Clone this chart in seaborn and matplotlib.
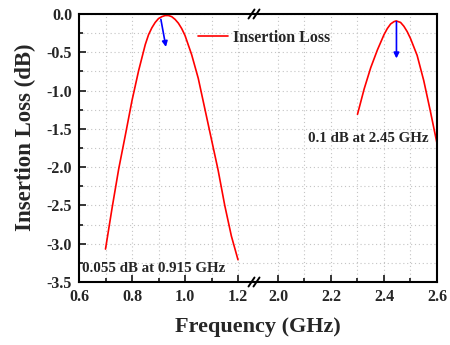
#!/usr/bin/env python3
"""Insertion loss vs frequency, two bands on a broken x axis."""

import matplotlib
matplotlib.use("Agg")
import matplotlib.pyplot as plt
from matplotlib.lines import Line2D
from matplotlib.ticker import MultipleLocator, FixedLocator
import pandas as pd
import seaborn as sns

# band 1 (around 0.915 GHz)
freq_low = [0.700, 0.725, 0.750, 0.775, 0.800, 0.825, 0.850, 0.8625, 0.875,
            0.8875, 0.900, 0.9125, 0.925, 0.932, 0.9375, 0.950, 0.9625, 0.975,
            0.9875, 1.000, 1.025, 1.050, 1.075, 1.100, 1.125, 1.150, 1.175,
            1.200]
loss_low = [-3.07, -2.53, -2.02, -1.58, -1.13, -0.74, -0.40, -0.27, -0.18,
            -0.11, -0.06, -0.035, -0.02, -0.02, -0.02, -0.035, -0.07, -0.12,
            -0.19, -0.28, -0.53, -0.84, -1.24, -1.64, -2.04, -2.50, -2.90,
            -3.21]

# band 2 (around 2.45 GHz)
freq_high = [2.300, 2.325, 2.350, 2.375, 2.400, 2.4125, 2.425, 2.4375, 2.446,
             2.4625, 2.475, 2.4875, 2.500, 2.525, 2.550, 2.575, 2.600]
loss_high = [-1.31, -0.98, -0.70, -0.47, -0.27, -0.19, -0.13, -0.10, -0.09,
             -0.11, -0.16, -0.23, -0.32, -0.54, -0.87, -1.27, -1.69]

label_low = "0.055 dB at 0.915 GHz"
label_high = "0.1 dB at 2.45 GHz"

sns.set_theme(style="ticks")
plt.rcParams["font.family"] = ["Liberation Serif", "DejaVu Serif"]
plt.rcParams["font.weight"] = "bold"
plt.rcParams["axes.unicode_minus"] = False

W, H = 450, 345
fig = plt.figure(figsize=(W / 100, H / 100), dpi=100)
x0, xb, x1 = 79, 255, 437
y_top, y_bot = 14, 282
ax_l = fig.add_axes([x0 / W, 1 - y_bot / H, (xb - x0) / W, (y_bot - y_top) / H])
ax_r = fig.add_axes([xb / W, 1 - y_bot / H, (x1 - xb) / W, (y_bot - y_top) / H],
                    sharey=ax_l)

px_per_ghz = 265
ax_l.set_xlim(0.6, 0.6 + (xb - x0) / px_per_ghz)
ax_r.set_xlim(2.6 - (x1 - xb) / px_per_ghz, 2.6)
ax_l.set_ylim(-3.5, 0.0)

df_low = pd.DataFrame({"f": freq_low, "il": loss_low})
df_high = pd.DataFrame({"f": freq_high, "il": loss_high})
sns.lineplot(data=df_low, x="f", y="il", ax=ax_l, color="#ff0000", lw=1.2,
             label="Insertion Loss", legend=False)
sns.lineplot(data=df_high, x="f", y="il", ax=ax_r, color="#ff0000", lw=1.2,
             legend=False)

grid_kw = dict(color="#c4c4c4", lw=0.8, linestyle=(0, (1, 2.5)))
for ax in (ax_l, ax_r):
    ax.set_xlabel("")
    ax.set_ylabel("")
    ax.yaxis.set_major_locator(MultipleLocator(0.5))
    ax.yaxis.set_minor_locator(MultipleLocator(0.25))
    ax.grid(True, which="both", **grid_kw)
    ax.set_axisbelow(True)
    ax.tick_params(which="both", direction="in", top=False, right=False,
                   labelsize=11.5, width=1.3)
    ax.tick_params(which="major", length=5, pad=5)
    ax.tick_params(which="minor", length=3)
    for s in ax.spines.values():
        s.set_linewidth(1.5)
        s.set_color("black")

ax_l.xaxis.set_major_locator(FixedLocator([0.6, 0.8, 1.0, 1.2]))
ax_l.xaxis.set_minor_locator(FixedLocator([0.7, 0.9, 1.1]))
ax_r.xaxis.set_major_locator(FixedLocator([2.0, 2.2, 2.4, 2.6]))
ax_r.xaxis.set_minor_locator(FixedLocator([2.1, 2.3, 2.5]))
ax_l.yaxis.set_major_formatter(lambda v, p: f"{v:.1f}")
ax_l.xaxis.set_major_formatter(lambda v, p: f"{v:.1f}")
ax_r.xaxis.set_major_formatter(lambda v, p: f"{v:.1f}")

ax_l.spines["right"].set_visible(False)
ax_r.spines["left"].set_visible(False)
ax_r.tick_params(axis="y", which="both", left=False, labelleft=False)

# markers for the peaks
ax_l.annotate("", xy=(0.928, -0.43), xytext=(0.909, -0.07),
              arrowprops=dict(arrowstyle="-|>", color="#0000ff", lw=1.2,
                              mutation_scale=8, shrinkA=0, shrinkB=0))
ax_r.annotate("", xy=(2.447, -0.58), xytext=(2.447, -0.10),
              arrowprops=dict(arrowstyle="-|>", color="#0000ff", lw=1.2,
                              mutation_scale=8, shrinkA=0, shrinkB=0))
ax_l.text(0.611, -3.33, label_low, fontsize=10.8, fontweight="bold",
          ha="left", va="center")
ax_r.text(2.113, -1.62, label_high, fontsize=10.8, fontweight="bold",
          ha="left", va="center")

# break marks "//" over the spines
for yy in (y_top, y_bot):
    for dx in (-4, 1):
        fig.add_artist(Line2D([(xb + dx - 2.5) / W, (xb + dx + 3.5) / W],
                              [1 - (yy + 4.5) / H, 1 - (yy - 4.5) / H],
                              color="black", lw=1.4))

handles, labels = ax_l.get_legend_handles_labels()
fig.legend(handles, labels, loc="center left",
           bbox_to_anchor=(195 / W, 1 - 38 / H), frameon=False,
           fontsize=11.5, handlelength=1.85, handletextpad=0.3,
           borderaxespad=0, borderpad=0.2)

fig.text(258 / W, 1 - 327 / H, "Frequency (GHz)", fontsize=16,
         fontweight="bold", ha="center", va="center")
fig.text(25 / W, 1 - 137 / H, "Insertion Loss (dB)", fontsize=16.5,
         fontweight="bold", ha="center", va="center", rotation=90)

for ax in (ax_l, ax_r):
    plt.setp(ax.get_xticklabels() + ax.get_yticklabels(), fontweight="bold")

fig.savefig("out.png", dpi=100)
